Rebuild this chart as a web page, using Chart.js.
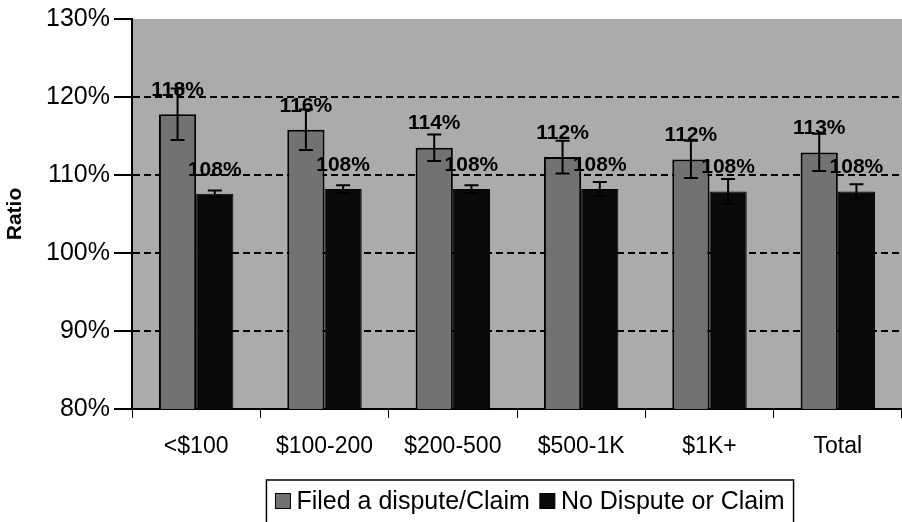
<!DOCTYPE html>
<html>
<head>
<meta charset="utf-8">
<script src="https://cdn.jsdelivr.net/npm/chart.js@4.4.1/dist/chart.umd.min.js"></script>
<style>
html, body { margin: 0; padding: 0; background: #fff; }
#wrap { width: 902px; height: 522px; }
</style>
</head>
<body>
<div id="wrap"><canvas id="myChart" width="902" height="522"></canvas></div>
<script>
// values (percent)
const categories = ['<$100', '$100-200', '$200-500', '$500-1K', '$1K+', 'Total'];
const filedValues = [117.8, 115.8, 113.5, 112.3, 112.0, 112.9];
const filedErrors = [3.3, 2.6, 1.7, 2.1, 2.4, 2.4];
const noDisputeValues = [107.6, 108.2, 108.2, 108.2, 107.9, 107.9];
const noDisputeErrors = [0.4, 0.5, 0.5, 0.9, 1.6, 0.9];
const yTicks = [80, 90, 100, 110, 120, 130];

const FONT = '"Liberation Sans", Arial, sans-serif';

// gray plot background
const plotBg = {
    id: 'plotBg',
    beforeDraw(chart) {
        const a = chart.chartArea;
        const ctx = chart.ctx;
        ctx.save();
        ctx.fillStyle = '#ababab';
        ctx.fillRect(a.left, a.top, a.right - a.left, a.bottom - a.top);
        ctx.restore();
    }
};

// error bars + value labels
const barExtras = {
    id: 'barExtras',
    afterDatasetsDraw(chart) {
        const ctx = chart.ctx;
        const y = chart.scales.y;
        ctx.save();
        chart.data.datasets.forEach((ds, i) => {
            const meta = chart.getDatasetMeta(i);
            meta.data.forEach((bar, j) => {
                const v = ds.data[j];
                const e = ds.errors[j];
                const y1 = y.getPixelForValue(v + e);
                const y2 = y.getPixelForValue(v - e);
                ctx.strokeStyle = '#000';
                ctx.lineWidth = 2;
                ctx.beginPath();
                ctx.moveTo(bar.x, y1); ctx.lineTo(bar.x, y2);
                ctx.moveTo(bar.x - 7, y1); ctx.lineTo(bar.x + 7, y1);
                ctx.moveTo(bar.x - 7, y2); ctx.lineTo(bar.x + 7, y2);
                ctx.stroke();
            });
        });
        chart.data.datasets.forEach((ds, i) => {
            const meta = chart.getDatasetMeta(i);
            meta.data.forEach((bar, j) => {
                ctx.fillStyle = '#000';
                ctx.font = 'bold 21px ' + FONT;
                ctx.textAlign = 'center';
                ctx.textBaseline = 'middle';
                ctx.fillText(Math.round(ds.data[j]) + '%', bar.x, bar.y - 24);
            });
        });
        ctx.restore();
    }
};

// boxed legend under the axis
const boxLegend = {
    id: 'boxLegend',
    afterDraw(chart) {
        const ctx = chart.ctx;
        const a = chart.chartArea;
        ctx.save();
        ctx.font = '25px ' + FONT;
        const sq = 15, gap = 6, between = 10, pad = 9;
        const items = chart.data.datasets.map(ds => ({
            label: ds.label, color: ds.backgroundColor, w: sq + gap + ctx.measureText(ds.label).width
        }));
        let total = items.reduce((s, it) => s + it.w, 0) + between * (items.length - 1);
        const cx = (a.left + a.right) / 2 + 13;
        const boxL = cx - total / 2 - pad;
        const boxT = 480;
        ctx.strokeStyle = '#000';
        ctx.lineWidth = 1.5;
        ctx.strokeRect(boxL, boxT, total + pad * 2, 50);
        let x = boxL + pad;
        const cy = 501;
        items.forEach(it => {
            ctx.fillStyle = it.color;
            ctx.fillRect(x, cy - sq / 2, sq, sq);
            ctx.lineWidth = 1;
            ctx.strokeRect(x, cy - sq / 2, sq, sq);
            ctx.fillStyle = '#000';
            ctx.textAlign = 'left';
            ctx.textBaseline = 'middle';
            ctx.fillText(it.label, x + sq + gap, cy + 1);
            x += it.w + between;
        });
        ctx.restore();
    }
};

window.onload = function() {
    const ctx = document.getElementById('myChart').getContext('2d');
    new Chart(ctx, {
        type: 'bar',
        data: {
            labels: categories,
            datasets: [{
                label: 'Filed a dispute/Claim',
                data: filedValues,
                errors: filedErrors,
                backgroundColor: '#727272',
                borderColor: '#000',
                borderWidth: 2
            }, {
                label: 'No Dispute or Claim',
                data: noDisputeValues,
                errors: noDisputeErrors,
                backgroundColor: '#0a0a0a',
                borderColor: '#000',
                borderWidth: 1
            }]
        },
        options: {
            responsive: false,
            animation: false,
            devicePixelRatio: 1,
            categoryPercentage: 0.58,
            barPercentage: 1,
            layout: { padding: { top: 13, right: 0, left: 0, bottom: 0 } },
            plugins: {
                legend: { display: false },
                tooltip: { enabled: false }
            },
            scales: {
                x: {
                    afterFit(scale) { scale.height = 113; },
                    grid: { drawOnChartArea: false, drawTicks: true, tickLength: 9, tickColor: '#000', offset: true },
                    border: { display: true, color: '#000', width: 2 },
                    ticks: { color: '#000', font: { family: FONT, size: 23 }, padding: 15, maxRotation: 0 }
                },
                y: {
                    min: yTicks[0],
                    max: yTicks[yTicks.length - 1],
                    afterBuildTicks(scale) { scale.ticks = yTicks.map(v => ({ value: v })); },
                    afterFit(scale) { scale.width = 132; },
                    grid: {
                        color: c => (c.tick && (c.tick.value === yTicks[0] || c.tick.value === yTicks[yTicks.length - 1])) ? 'rgba(0,0,0,0)' : '#000',
                        lineWidth: 2,
                        tickColor: '#000',
                        tickLength: 18,
                        tickBorderDash: []
                    },
                    border: { display: true, color: '#000', width: 2, dash: [7, 4] },
                    ticks: {
                        color: '#000',
                        font: { family: FONT, size: 25 },
                        padding: 4,
                        callback: v => v + '%'
                    },
                    title: {
                        display: true,
                        text: 'Ratio',
                        color: '#000',
                        font: { family: FONT, size: 21, weight: 'bold' },
                        padding: { top: 3, bottom: 0 }
                    }
                }
            }
        },
        plugins: [plotBg, barExtras, boxLegend]
    });
};
</script>
</body>
</html>
